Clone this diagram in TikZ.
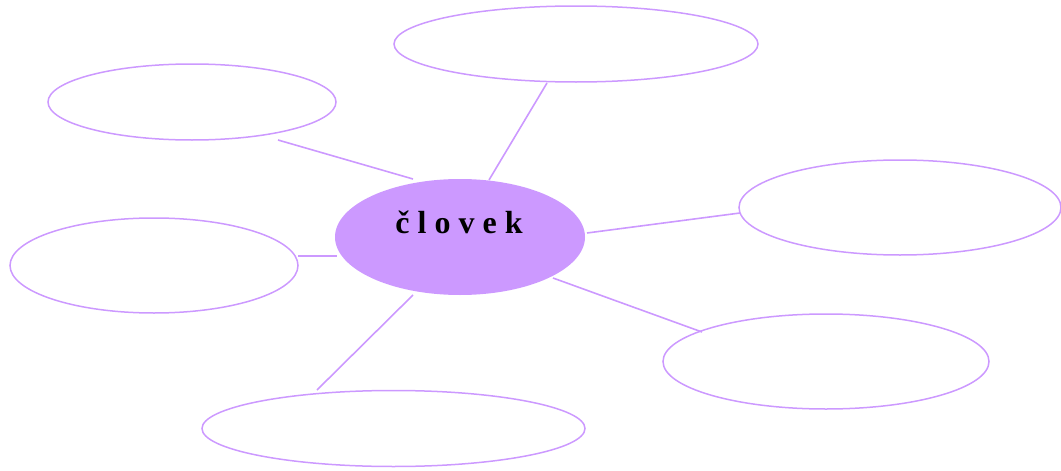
\documentclass[tikz,border=0pt]{standalone}
\usepackage{fontspec}
\setmainfont{Liberation Serif}
\definecolor{lila}{HTML}{CC99FF}
\begin{document}
\begin{tikzpicture}[x=1pt,y=-1pt,
  bubble/.style={draw=lila,line width=1.5pt},
  link/.style={draw=lila,line width=1.6pt}]
\useasboundingbox (0,0) rectangle (1061,471);
\fill[lila] (460,237) ellipse [x radius=125,y radius=58];
\node[font=\bfseries\fontsize{32}{32}\selectfont] (c) at (459,222) {č l o v e k};
\draw[bubble] (576,44) ellipse [x radius=182,y radius=38];
\draw[bubble] (192,102) ellipse [x radius=144,y radius=38];
\draw[bubble] (900,207.5) ellipse [x radius=161,y radius=47.5];
\draw[bubble] (154,265.5) ellipse [x radius=144,y radius=47.5];
\draw[bubble] (826,361.5) ellipse [x radius=163,y radius=47.5];
\draw[bubble] (393.5,428.5) ellipse [x radius=191.5,y radius=38];
\coordinate (t1) at (547,83); \coordinate (t2) at (489,180);
\coordinate (u1) at (278,140); \coordinate (u2) at (413,179);
\coordinate (r1) at (587,233); \coordinate (r2) at (740,213);
\coordinate (l1) at (298,256); \coordinate (l2) at (337,256);
\coordinate (d1) at (553,278); \coordinate (d2) at (702,332);
\coordinate (b1) at (413,295); \coordinate (b2) at (317,390);
\draw[link] (t1) -- (t2);
\draw[link] (u1) -- (u2);
\draw[link] (r1) -- (r2);
\draw[link] (l1) -- (l2);
\draw[link] (d1) -- (d2);
\draw[link] (b1) -- (b2);
\end{tikzpicture}
\end{document}
